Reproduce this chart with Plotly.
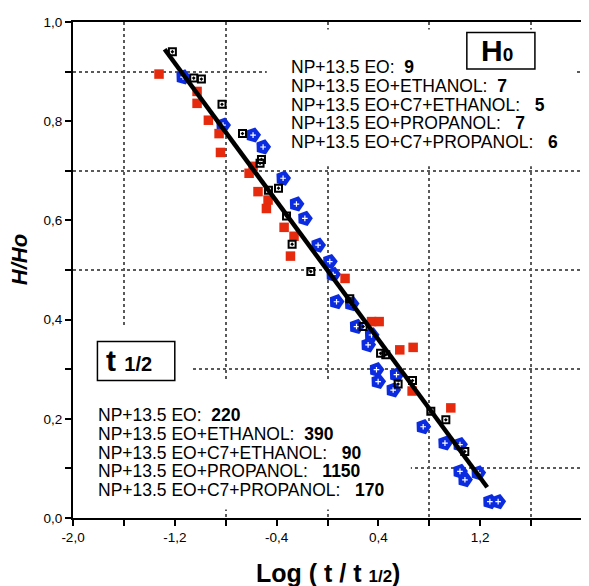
import plotly.graph_objects as go

# red filled squares
red_x = [-1.324, -1.025, -1.025, -0.936, -0.852, -0.841, -0.585, -0.616, -0.546, -0.467, -0.480,
         -0.341, -0.263, -0.291, 0.138, 0.346, 0.406, 0.568, 0.673, 0.665, 0.969]
red_y = [0.895, 0.860, 0.836, 0.802, 0.775, 0.737, 0.709, 0.695, 0.658, 0.641, 0.624,
         0.586, 0.568, 0.528, 0.483, 0.396, 0.396, 0.339, 0.344, 0.256, 0.222]

# open squares with a dot
black_x = [-1.219, -1.051, -0.991, -0.829, -0.668, -0.519, -0.530, -0.464, -0.385, -0.322, -0.278,
           -0.131, 0.175, 0.280, 0.417, 0.458, 0.555, 0.668, 0.812, 0.930, 1.079]
black_y = [0.940, 0.887, 0.885, 0.834, 0.775, 0.723, 0.715, 0.661, 0.665, 0.609, 0.552,
           0.497, 0.442, 0.386, 0.332, 0.329, 0.270, 0.277, 0.215, 0.198, 0.134]

# blue markers
blue_x = [-1.135, -0.821, -0.585, -0.506, -0.349, -0.244, -0.178, -0.074, 0.018, 0.044, 0.071,
          0.189, 0.228, 0.346, 0.319, 0.385, 0.398, 0.516, 0.542, 0.752, 0.923, 1.041, 1.041,
          1.080, 1.184, 1.276, 1.341]
blue_y = [0.889, 0.792, 0.772, 0.748, 0.685, 0.633, 0.604, 0.550, 0.517, 0.491, 0.436,
          0.432, 0.386, 0.369, 0.349, 0.299, 0.275, 0.258, 0.289, 0.184, 0.151, 0.148, 0.094,
          0.077, 0.091, 0.033, 0.033]

# fitted line end points
fit_x = [-1.28, 1.255]
fit_y = [0.945, 0.062]

x_ticks = [-2.0, -1.2, -0.4, 0.4, 1.2, 2.0]
x_ticktext = ["-2,0", "-1,2", "-0,4", "0,4", "1,2", "2,0"]
x_minor = [-1.6, -0.8, 0.0, 0.8, 1.6]
y_ticks = [0.0, 0.2, 0.4, 0.6, 0.8, 1.0]
y_ticktext = ["0,0", "0,2", "0,4", "0,6", "0,8", "1,0"]
y_minor = [0.1, 0.3, 0.5, 0.7, 0.9]

h0_labels = ["NP+13.5 EO:", "NP+13.5 EO+ETHANOL:", "NP+13.5 EO+C7+ETHANOL:",
             "NP+13.5 EO+PROPANOL:", "NP+13.5 EO+C7+PROPANOL:"]
h0_values = ["9", "7", "5", "7", "6"]
t12_values = ["220", "390", "90", "1150", "170"]

FONT = "Liberation Sans, Arial, sans-serif"
RED = "#e62a0e"
BLUE = "#0b2be0"
GRID = "#5a5a5a"

fig = go.Figure()
fig.add_trace(go.Scatter(
    x=blue_x, y=blue_y, mode="markers",
    marker=dict(symbol="pentagon", angle=160, size=16, color=BLUE, line=dict(width=0)),
))
fig.add_trace(go.Scatter(
    x=blue_x, y=blue_y, mode="markers",
    marker=dict(symbol="cross-thin-open", size=4, color="white", line=dict(width=1.2, color="white")),
))
fig.add_trace(go.Scatter(
    x=red_x, y=red_y, mode="markers",
    marker=dict(symbol="square", size=9.5, color=RED, line=dict(width=0)),
))
fig.add_trace(go.Scatter(
    x=black_x, y=black_y, mode="markers",
    marker=dict(symbol="square-open-dot", size=7, color="black", line=dict(width=2, color="black")),
))
fig.add_trace(go.Scatter(
    x=fit_x, y=fit_y, mode="lines",
    line=dict(color="black", width=4.5),
))

# white patches that hide the grid behind the text blocks (between grid and traces)
masks = [(-0.477, 0.709, 1.95, 0.985), (-2.0, 0.0, -1.057, 0.389), (-2.0, 0.017, 0.655, 0.277)]
for x0, y0, x1, y1 in masks:
    fig.add_shape(type="rect", xref="x", yref="y", x0=x0, y0=y0, x1=x1, y1=y1,
                  fillcolor="white", line=dict(width=0), layer="between")

# boxes
fig.add_shape(type="rect", xref="x", yref="y", x0=1.095, y0=0.905, x1=1.630, y1=0.979,
              fillcolor="white", line=dict(color="black", width=1.5))
fig.add_shape(type="rect", xref="x", yref="y", x0=-1.808, y0=0.277, x1=-1.200, y1=0.356,
              fillcolor="white", line=dict(color="black", width=1.5))

fig.add_annotation(x=1.19, y=0.942, xref="x", yref="y", xanchor="left", yanchor="middle",
                   showarrow=False, font=dict(family=FONT, size=30, color="black"),
                   text="<b>H<span style='font-size:19px'>0</span></b>")
fig.add_annotation(x=-1.76, y=0.318, xref="x", yref="y", xanchor="left", yanchor="middle",
                   showarrow=False, font=dict(family=FONT, size=30, color="black"),
                   text="<b>t <span style='font-size:20px'>1/2</span></b>")

h0_y = [0.909, 0.871, 0.833, 0.796, 0.758]
t12_y = [0.208, 0.170, 0.132, 0.094, 0.057]
for i, lab in enumerate(h0_labels):
    gap = "&nbsp;&nbsp;" if i < 2 else "&nbsp;&nbsp;&nbsp;"
    fig.add_annotation(x=-0.30, y=h0_y[i], xref="x", yref="y", xanchor="left", yanchor="middle",
                       showarrow=False, font=dict(family=FONT, size=17.5, color="black"),
                       text=f"{lab}{gap}<b>{h0_values[i]}</b>")
    fig.add_annotation(x=-1.82, y=t12_y[i], xref="x", yref="y", xanchor="left", yanchor="middle",
                       showarrow=False, font=dict(family=FONT, size=17.5, color="black"),
                       text=f"{lab}{gap}<b>{t12_values[i]}</b>")

# axis titles
fig.add_annotation(x=0.5, y=-0.110, xref="paper", yref="paper", xanchor="center", yanchor="middle",
                   showarrow=False, font=dict(family=FONT, size=25, color="black"),
                   text="<b>Log ( t / t <span style='font-size:17px'>1/2</span>)</b>")
fig.add_annotation(x=-0.106, y=0.52, xref="paper", yref="paper", xanchor="center", yanchor="middle",
                   showarrow=False, textangle=-90, font=dict(family=FONT, size=22, color="black"),
                   text="<b><i>H/Ho</i></b>")

axis_common = dict(
    showgrid=False, zeroline=False, showline=True, linecolor="black", linewidth=2, mirror=True,
    ticks="outside", ticklen=6, tickwidth=1.5, tickcolor="black", automargin=False,
    tickfont=dict(family=FONT, size=13.5, color="black"),
)
fig.update_xaxes(
    **axis_common, range=[-2.0, 2.0], tickmode="array", tickvals=x_ticks, ticktext=x_ticktext,
    minor=dict(tickmode="array", tickvals=x_minor, ticks="outside", ticklen=6, tickwidth=1.5,
               tickcolor="black", showgrid=True, gridcolor=GRID, gridwidth=1.5, griddash="dot"),
)
fig.update_yaxes(
    **axis_common, range=[0.0, 1.0], tickmode="array", tickvals=y_ticks, ticktext=y_ticktext,
    minor=dict(tickmode="array", tickvals=y_minor, ticks="outside", ticklen=6, tickwidth=1.5,
               tickcolor="black", showgrid=True, gridcolor=GRID, gridwidth=1.5, griddash="dot"),
)
# the page body adds an 8px offset, so the figure is drawn 8px smaller
fig.update_layout(
    width=581, height=578,
    margin=dict(l=65, r=7, t=14, b=68),
    paper_bgcolor="white", plot_bgcolor="white",
    showlegend=False,
)
fig.write_html("out.html")
